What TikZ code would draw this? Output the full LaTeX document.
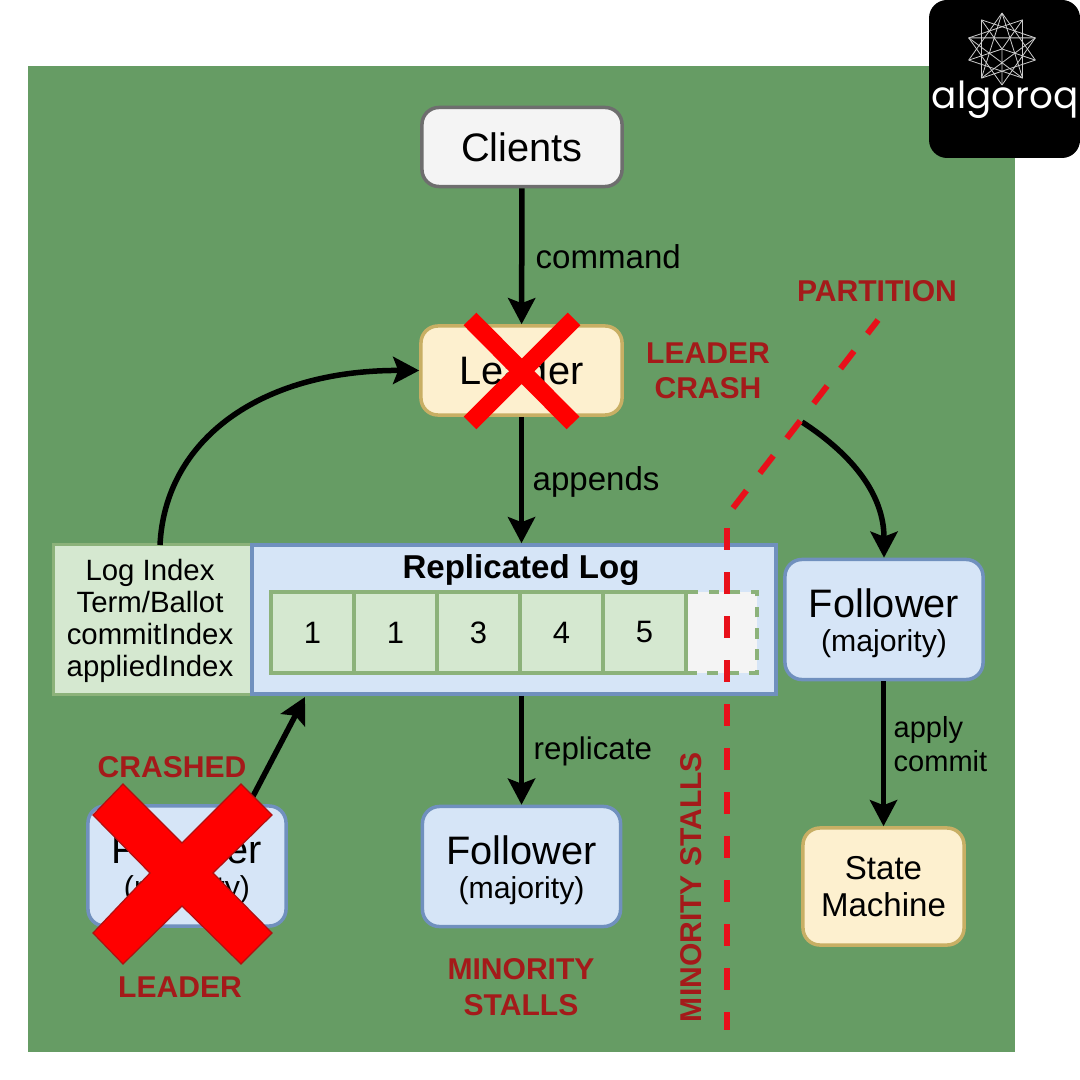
\documentclass[tikz,border=0pt]{standalone}
\usepackage{fontspec}
\setmainfont{Liberation Sans}
\newfontfamily\logofont{Poppins}
\usetikzlibrary{arrows.meta}
\definecolor{PanelGreen}{RGB}{102,156,100}
\definecolor{PaleBlue}{RGB}{214,229,247}
\definecolor{EdgeBlue}{RGB}{112,144,190}
\definecolor{PaleGreen}{RGB}{213,232,208}
\definecolor{EdgeGreen}{RGB}{140,178,122}
\definecolor{PaleYellow}{RGB}{253,240,207}
\definecolor{EdgeYellow}{RGB}{200,175,100}
\definecolor{SoftGray}{RGB}{244,244,244}
\definecolor{EdgeGray}{RGB}{110,110,110}
\definecolor{AlarmRed}{RGB}{164,26,26}
\definecolor{CutRed}{RGB}{232,16,26}
\definecolor{CrossRed}{RGB}{255,0,0}
\definecolor{CrossEdge}{RGB}{176,16,16}
\newcommand{\folbody}{\rule{0pt}{10.2pt}Follower\\[-3.3pt]{\fontsize{8.6}{10}\selectfont (majority)}}
\tikzset{
  card/.style={draw,line width=0.035cm,rounded corners=0.17cm,inner sep=0pt,align=center,
    font=\fontsize{11.3}{13}\selectfont},
  follower/.style={card,draw=EdgeBlue,fill=PaleBlue,minimum width=1.98cm,minimum height=1.2cm},
  cell/.style={draw=EdgeGreen,line width=0.035cm,fill=PaleGreen,inner sep=0pt,minimum width=0.83cm,
    minimum height=0.81cm,font=\fontsize{8.8}{10}\selectfont},
  flow/.style={draw=black,line width=0.055cm,-{Stealth[length=0.26cm,width=0.27cm,inset=0.05cm]}},
  flowtext/.style={inner sep=0pt,font=\fontsize{9.4}{10.6}\selectfont,align=left},
  alarm/.style={inner sep=0pt,text=AlarmRed,align=center,font=\fontsize{8.55}{10}\selectfont\bfseries},
  cut/.style={draw=CutRed,line width=0.06cm,dash pattern=on 0.22cm off 0.22cm},
  strike/.style={draw=CrossRed,line width=0.18cm},
}
\begin{document}
\begin{tikzpicture}[x=0.01cm,y=-0.01cm]
\useasboundingbox (0,0) rectangle (1080,1080);
\fill[white] (0,0) rectangle (1080,1080);
\fill[PanelGreen] (28,66) rectangle (1015,1052);
\node[card,draw=EdgeGray,fill=SoftGray,minimum width=2cm,minimum height=0.79cm] (clients) at (522,147) {Clients};
\node[card,draw=EdgeYellow,fill=PaleYellow,minimum width=2.01cm,minimum height=0.89cm] (leader) at (521.5,370.5) {Leader};
\node[draw=EdgeGreen,line width=0.03cm,fill=PaleGreen,inner sep=0pt,minimum width=1.98cm,minimum height=1.49cm] (meta) at (153,619.5) {};
\node[inner sep=0pt,align=center,font=\fontsize{8.35}{9.1}\selectfont] (metatext) at (150,620.5) {Log Index\\Term/Ballot\\commitIndex\\appliedIndex};
\node[draw=EdgeBlue,line width=0.035cm,fill=PaleBlue,inner sep=0pt,minimum width=5.24cm,minimum height=1.49cm] (log) at (514,619.5) {};
\node[inner sep=0pt,font=\fontsize{9.4}{11}\selectfont\bfseries] (logtitle) at (521,570) {Replicated Log};
\node[draw=EdgeGreen,dashed,line width=0.035cm,fill=SoftGray,inner sep=0pt,minimum width=0.71cm,minimum height=0.81cm] (c5) at (721.5,632.5) {};
\foreach \i/\x/\val in {0/312.5/1,1/395.5/1,2/478.5/3,3/561.5/4,4/644.5/5}
  \node[cell] (c\i) at (\x,632.5) {\val};
\node[follower] (folright) at (884,619.5) {\folbody};
\node[follower] (folmid) at (521.5,866.5) {\folbody};
\node[follower] (folcrash) at (187,866) {\folbody};
\node[card,draw=EdgeYellow,fill=PaleYellow,minimum width=1.61cm,minimum height=1.17cm,
  font=\fontsize{9.4}{10.6}\selectfont] (state) at (883.5,886.5) {State\\Machine};
\coordinate (metatop) at (160,545);
\coordinate (logfoot) at (305,697);
\coordinate (bend) at (802,422);
\draw[flow] (clients) -- (leader);
\draw[flow] (leader) -- (log.north -| leader);
\draw[flow] (log.south -| folmid) -- (folmid);
\draw[flow] (folright.south -| state) -- (state);
\draw[flow] (metatop) .. controls (165,440) and (260,370) .. (leader.west);
\draw[flow] (bend) to[out=-33,in=90] (folright.north);
\draw[flow] (folcrash.45) -- (logfoot);
\node[flowtext,anchor=west] (lcommand) at (535,257) {command};
\node[flowtext,anchor=west] (lappends) at (532,482) {appends};
\node[flowtext,anchor=west,font=\fontsize{8.9}{10}\selectfont] (lreplicate) at (533,751) {replicate};
\node[flowtext,anchor=west,font=\fontsize{8.25}{9.7}\selectfont] (lapply) at (893,744) {apply\\commit};
\coordinate (cuta) at (733,508);
\coordinate (cutb) at (878,320);
\coordinate (cutc) at (727,528);
\coordinate (cutd) at (727,1030);
\draw[cut] (cuta) -- (cutb);
\draw[cut] (cutc) -- (cutd);
\node[alarm] (lpartition) at (877,291) {PARTITION};
\node[alarm] (lcrash) at (708,371) {LEADER\\[0.1pt]CRASH};
\node[alarm] (lstallsup) at (521,987) {MINORITY\\[0.2pt]STALLS};
\node[alarm,rotate=90] (lstallsrot) at (691,887) {MINORITY STALLS};
\node[alarm] (lcrashed) at (172,767) {CRASHED};
\node[alarm] (lleader) at (180,987) {LEADER};
\draw[strike] (470,319) -- (573,423);
\draw[strike] (574,319) -- (470,423);
\draw[fill=CrossRed,draw=CrossEdge,line width=0.012cm] (123,784) -- (182,843) -- (241,784) -- (272,815)
  -- (213,873) -- (272,933) -- (241,964) -- (182,906) -- (123,964) -- (93,933) -- (150,873) -- (93,815) -- cycle;
\fill[black,rounded corners=0.18cm] (929,0) rectangle (1080,158);
\coordinate (starmid) at (1002,49);
\foreach \i in {0,...,9}
  \coordinate (s\i) at ({1002+35*cos(36*\i+90)},{49+36*sin(-36*\i-90)});
\foreach \i in {0,...,9}{
  \pgfmathtruncatemacro{\j}{mod(\i+3,10)}
  \draw[black!20,line width=0.008cm] (s\i) -- (s\j);
}
\foreach \i in {0,2,4,6,8}{
  \pgfmathtruncatemacro{\k}{mod(\i+4,10)}
  \pgfmathtruncatemacro{\m}{\i+1}
  \draw[black!20,line width=0.008cm] (s\i) -- (s\k) (starmid) -- (s\m);
}
\node[inner sep=0pt,text=white,font=\logofont\fontsize{10.6}{12}\selectfont] (logo) at (1005,100) {algoroq};
\end{tikzpicture}
\end{document}
